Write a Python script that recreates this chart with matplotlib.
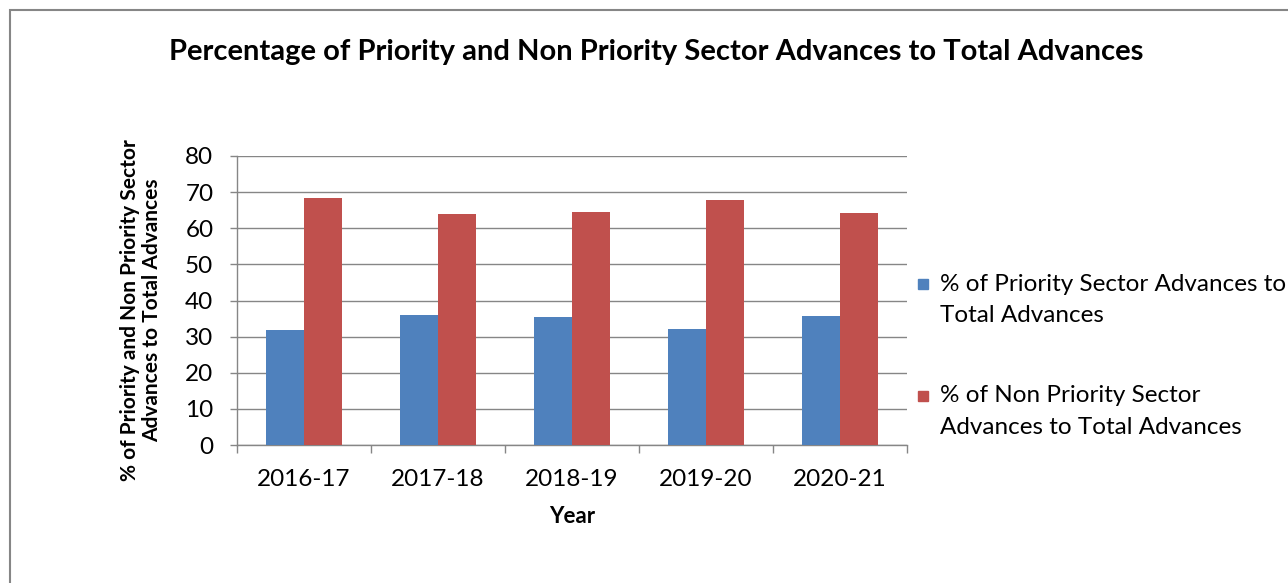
import numpy as np
import matplotlib.pyplot as plt
from matplotlib.patches import Rectangle

years = ['2016-17', '2017-18', '2018-19', '2019-20', '2020-21']
priority = [31.7, 36.1, 35.5, 32.2, 35.8]
non_priority = [68.3, 63.9, 64.5, 67.8, 64.2]
series_names = ['% of Priority Sector Advances to\nTotal Advances',
                '% of Non Priority Sector\nAdvances to Total Advances']
colors = ['#4F81BD', '#C0504D']

plt.rcParams['font.family'] = ['Lato', 'DejaVu Sans']

W, H = 1288, 583
fig = plt.figure(figsize=(W / 100, H / 100), dpi=100)
ax = fig.add_axes([237 / W, 1 - 445 / H, 670 / W, 289 / H])

x = np.arange(len(years))
w = 0.284
ax.bar(x - w / 2, priority, w, color=colors[0], zorder=3)
ax.bar(x + w / 2, non_priority, w, color=colors[1], zorder=3)

ax.set_xlim(-0.5, len(years) - 0.5)
ax.set_ylim(0, 80)
ax.set_yticks(range(0, 81, 10))
ax.yaxis.grid(True, color='#868686', linewidth=1, zorder=0)

ax.set_xticks(x)
ax.set_xticklabels(years, fontsize=17.5)
ax.set_xticks(np.arange(-0.5, len(years)), minor=True)
ax.tick_params(axis='x', which='major', length=0, pad=17)
ax.tick_params(axis='x', which='minor', length=6, color='#868686', width=1)
ax.tick_params(axis='y', length=5, color='#868686', width=1, labelsize=17.5, pad=12)

for s in ['top', 'right']:
    ax.spines[s].set_visible(False)
for s in ['left', 'bottom']:
    ax.spines[s].set_color('#868686')
    ax.spines[s].set_linewidth(1)

ax.set_xlabel('Year', fontsize=16, fontweight='bold', labelpad=12)
ax.set_ylabel('% of Priority and Non Priority Sector\nAdvances to Total Advances',
              fontsize=15, fontweight='bold', linespacing=1.15)
ax.yaxis.set_label_coords(-0.112, 0.467)

fig.text(656 / W, 1 - 52 / H, 'Percentage of Priority and Non Priority Sector Advances to Total Advances',
         ha='center', va='center', fontsize=21, fontweight='bold')

# legend drawn by hand so the squares line up with the first text line
entry_y = [284, 396]
for name, c, y0 in zip(series_names, colors, entry_y):
    fig.patches.append(Rectangle((918 / W, 1 - (y0 + 5) / H), 10 / W, 10 / H,
                                 transform=fig.transFigure, color=c))
    for i, line in enumerate(name.split('\n')):
        fig.text(940 / W, 1 - (y0 + 32 * i) / H, line, ha='left', va='center', fontsize=17.5)

fig.patches.append(Rectangle((10 / W, -0.1), 2, 1.1 - 10 / H, transform=fig.transFigure,
                             fill=False, edgecolor='#868686', linewidth=1.5))

fig.savefig('out.png', dpi=100)
